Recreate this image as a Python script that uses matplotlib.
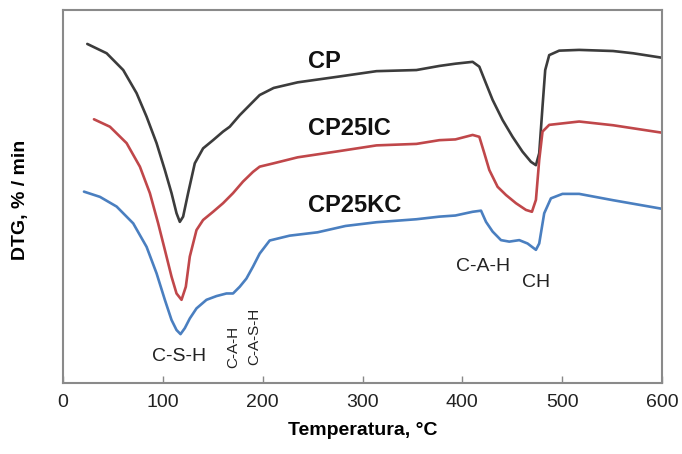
import matplotlib
matplotlib.use("Agg")
import matplotlib.pyplot as plt
from matplotlib import font_manager

names = {f.name for f in font_manager.fontManager.ttflist}
narrow = "Liberation Sans Narrow" if "Liberation Sans Narrow" in names else "Liberation Sans"
plt.rcParams['font.family'] = [narrow, 'DejaVu Sans']

# CP (dark gray)
cp_t = [24.3, 43.7, 60.3, 73.7, 83.7, 93.7, 102, 108.7, 113.7, 117, 120.3, 125.3, 132, 140.3,
        150.3, 160.3, 167, 177, 190.3, 197, 211, 235, 275, 314, 354, 377, 393, 410.3, 417,
        423.7, 430.3, 440.3, 450.3, 460.3, 468.7, 473.7, 477, 480.3, 483, 487, 497, 517,
        551, 571, 600]
cp_y = [90.9, 88.4, 83.9, 77.7, 71.4, 64.3, 57.1, 50.9, 45.5, 43.2, 44.6, 50.9, 58.9, 62.9,
        65.1, 67.4, 68.7, 71.8, 75.4, 77.2, 79.1, 80.6, 82.1, 83.6, 83.9, 85.0, 85.6, 86.1, 84.8,
        80.3, 75.9, 70.5, 66.0, 62.0, 59.3, 58.4, 61.6, 74.1, 83.9, 87.9, 89.1, 89.3,
        89.0, 88.4, 87.2]

# CP25IC (red)
ic_t = [31, 47, 63.7, 77, 87, 95.3, 102, 108.7, 113.7, 118.7, 123, 127, 133.7, 140.3, 150.3,
        160.3, 170.3, 180.3, 190.3, 197, 211, 235, 275, 314, 354, 377, 393, 410.3, 417, 422,
        427, 435.3, 443.7, 453.7, 463.7, 469.7, 473.7, 477, 480.3, 487, 517, 551, 600]
ic_y = [70.7, 68.7, 64.3, 58.0, 50.9, 42.8, 35.7, 28.5, 24.0, 22.3, 25.8, 33.9, 41.0, 43.7, 45.9,
        48.2, 50.9, 54.0, 56.6, 58.0, 58.9, 60.5, 62.1, 63.7, 64.1, 65.1, 65.3, 66.5, 66.0, 61.6,
        57.1, 52.6, 50.4, 48.2, 46.4, 45.9, 49.1, 59.8, 67.4, 69.2, 70.1, 69.1, 67.1]

# CP25KC (blue)
kc_t = [21, 37, 53.7, 70.3, 83.7, 93.7, 102, 108.7, 113.7, 117.7, 122, 127, 133.7, 143.7,
        153.7, 163.7, 170.3, 177, 183.7, 190.3, 197, 207, 227, 255, 283, 314, 354, 377, 393,
        410.3, 418.7, 423.7, 430.3, 438.7, 447, 457, 465.3, 473.7, 477, 482, 488.7, 500.3,
        517, 551, 600]
kc_y = [51.3, 49.9, 47.3, 42.8, 36.5, 29.4, 22.3, 16.9, 14.2, 13.1, 14.7, 17.3, 20.0, 22.3,
        23.3, 24.0, 24.0, 25.8, 28.0, 31.2, 34.7, 38.2, 39.5, 40.4, 42.1, 43.1, 43.9, 44.6, 44.9,
        45.9, 46.2, 43.2, 40.6, 38.3, 37.9, 38.3, 37.4, 35.7, 37.4, 45.5, 49.5, 50.7,
        50.7, 49.0, 46.7]

series_names = ["CP", "CP25IC", "CP25KC"]
xticks = [0, 100, 200, 300, 400, 500, 600]

fig = plt.figure(figsize=(6.82, 4.54), dpi=100)
ax = fig.add_axes([0.0924, 0.1564, 0.8783, 0.8216])

line_kw = dict(lw=1.9, solid_joinstyle='round', solid_capstyle='round')
ax.plot(cp_t, cp_y, color="#3c3c3c", **line_kw)
ax.plot(ic_t, ic_y, color="#c0474a", **line_kw)
ax.plot(kc_t, kc_y, color="#4a7fc0", **line_kw)

ax.set_xlim(0, 600)
ax.set_ylim(0, 100)
ax.set_xticks(xticks)
ax.set_yticks([])
ax.tick_params(axis='x', direction='in', length=5, width=1, color='#888888',
               labelsize=14, pad=8, labelcolor='#222222')
for s in ax.spines.values():
    s.set_color('#8a8a8a')
    s.set_linewidth(1.5)

lab_kw = dict(fontsize=17, fontweight='bold', color='#111111', va='center', ha='left')
ax.text(245, 86.2, series_names[0], **lab_kw)
ax.text(245, 68.2, series_names[1], **lab_kw)
ax.text(245, 47.5, series_names[2], **lab_kw)

ann = dict(color='#222222', ha='center', va='center')
ax.text(116, 7.0, "C-S-H", fontsize=14, **ann)
ax.text(171, 9.7, "C-A-H", fontsize=11, rotation=90, **ann)
ax.text(192, 12.5, "C-A-S-H", fontsize=11, rotation=90, **ann)
ax.text(421, 31.2, "C-A-H", fontsize=14, **ann)
ax.text(474, 26.9, "CH", fontsize=14, **ann)

ax.set_xlabel("Temperatura, °C", fontsize=14, fontweight='bold', labelpad=8)
fig.text(0.03, 0.56, "DTG, % / min", rotation=90, fontsize=14, fontweight='bold',
         ha='center', va='center')

fig.savefig("out.png", dpi=100)
